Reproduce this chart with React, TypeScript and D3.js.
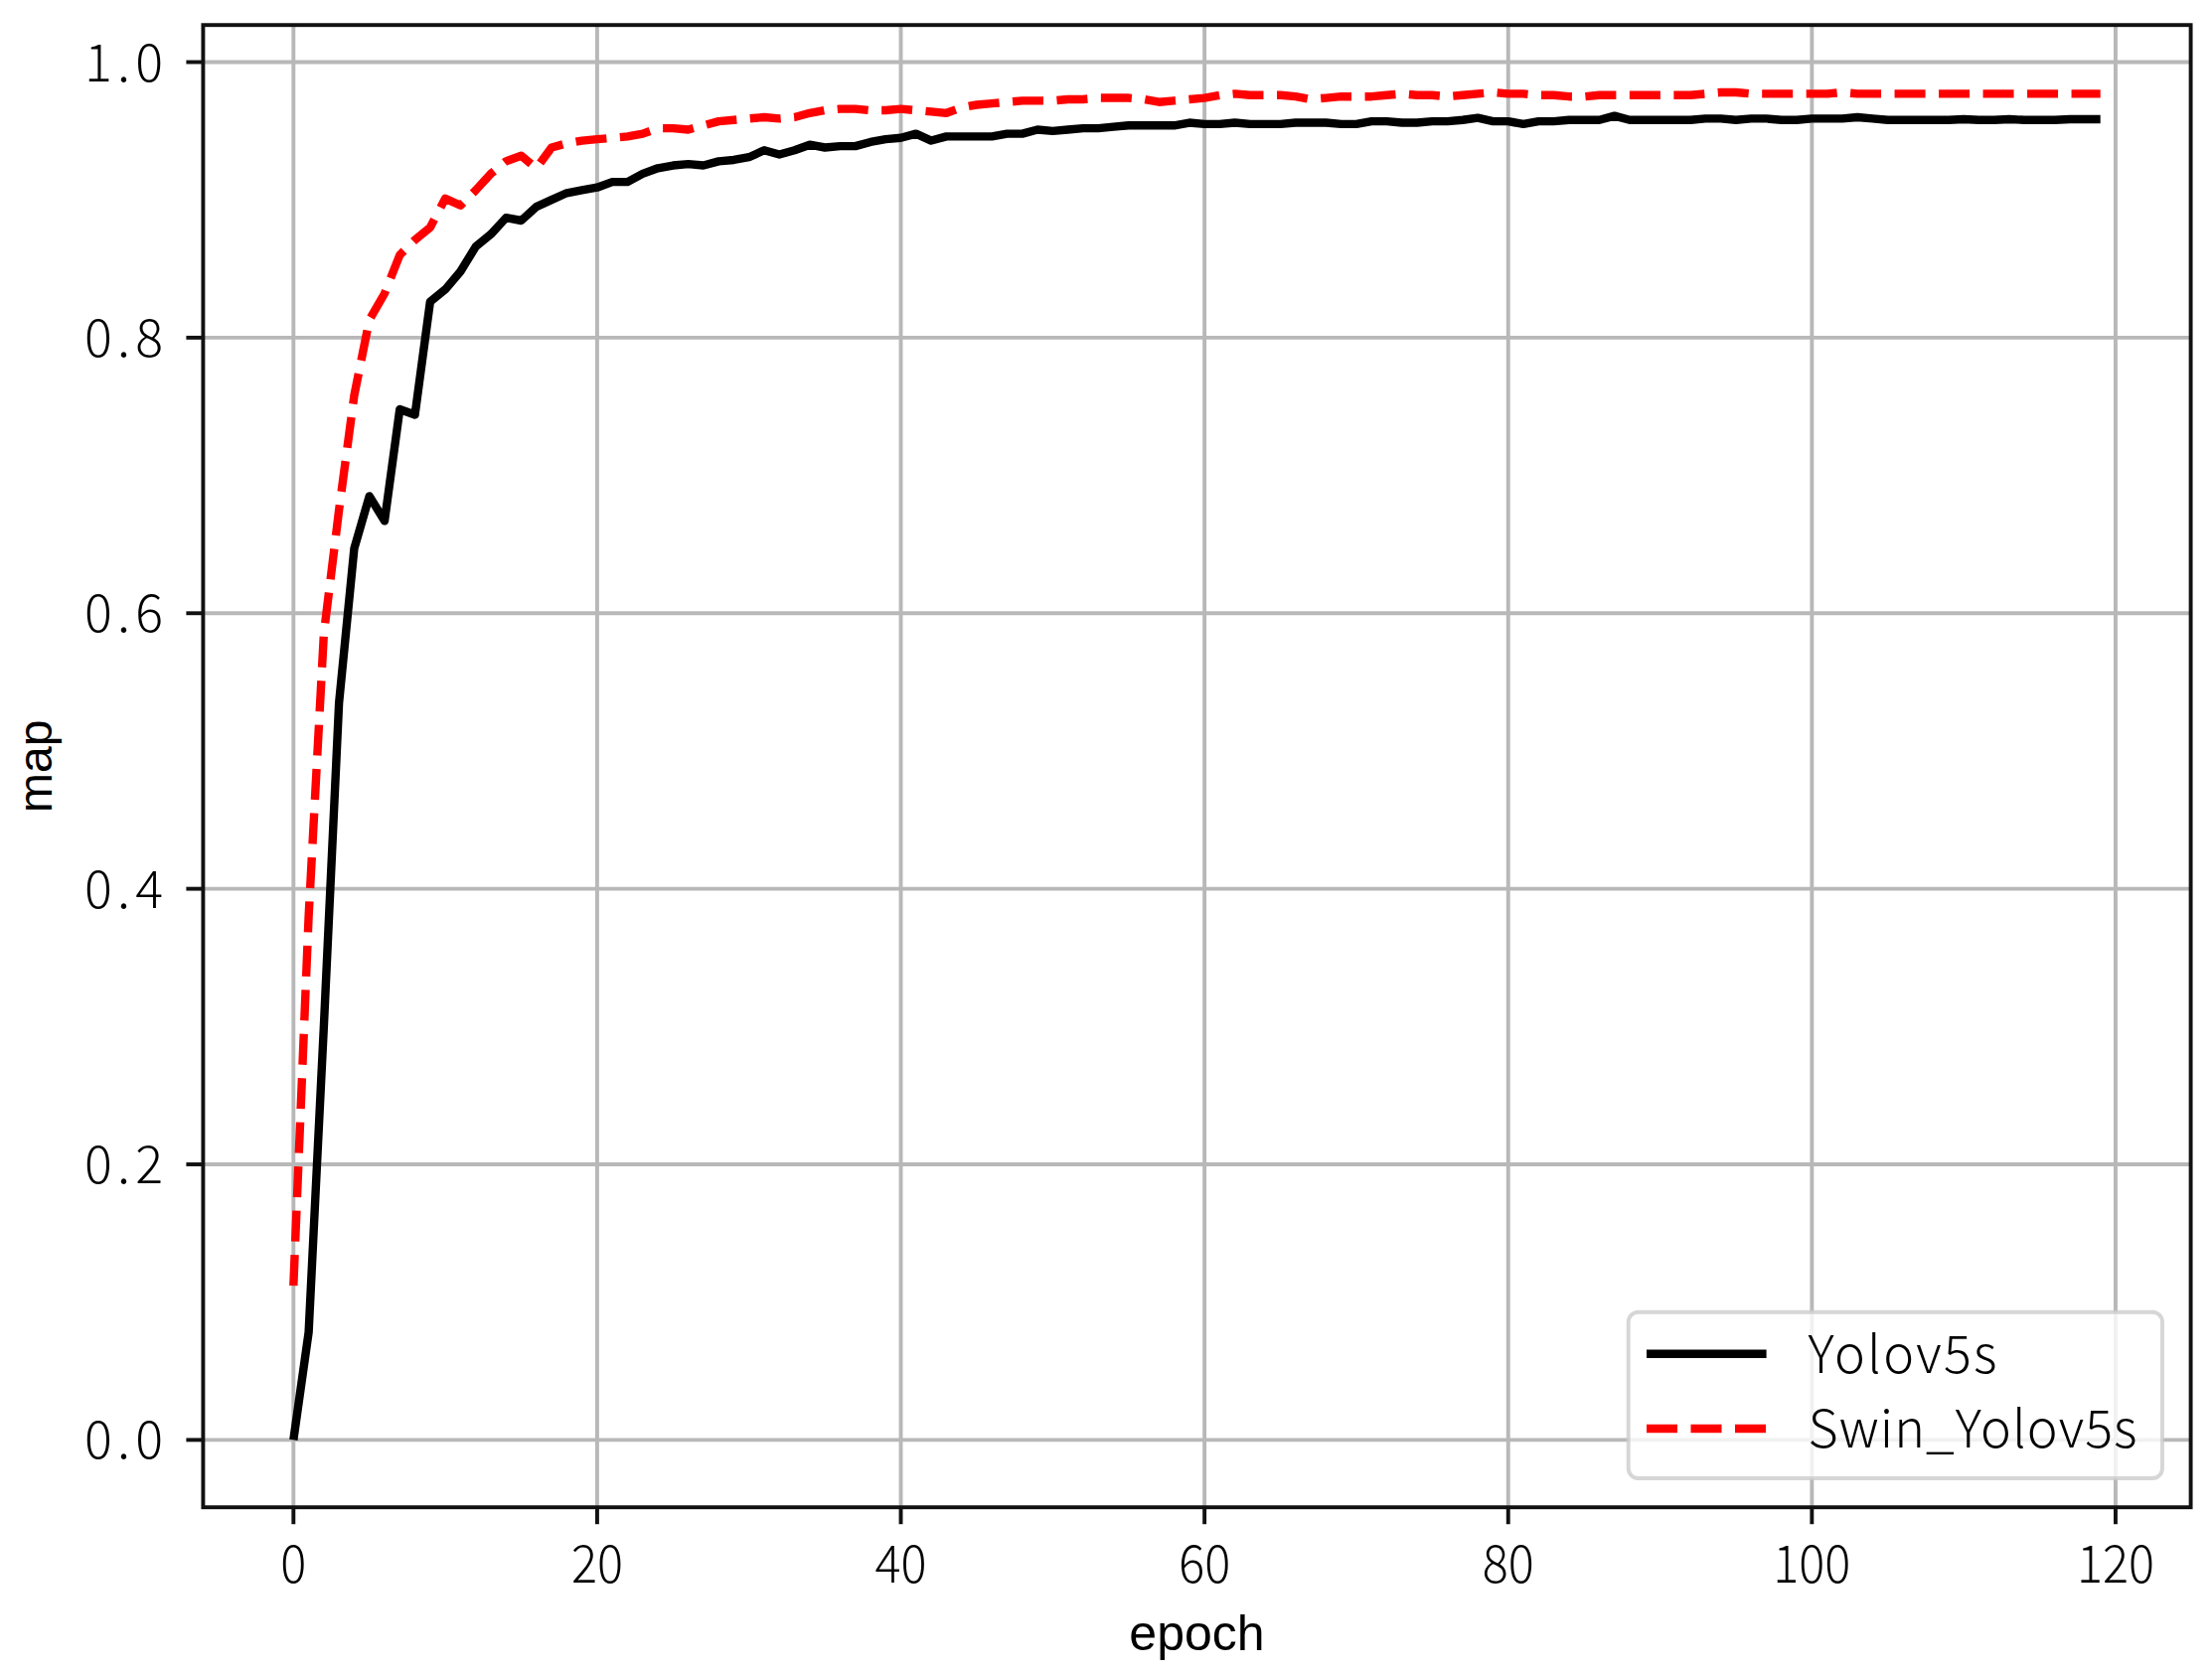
import React, { useRef, useEffect } from "react";
import * as d3 from "d3";

// mAP per epoch (index = epoch)
const yolov5s = [
    0.0, 0.078, 0.3, 0.535, 0.647, 0.685, 0.667, 0.748, 0.744, 0.826,
    0.835, 0.848, 0.866, 0.875, 0.887, 0.885, 0.895, 0.9, 0.905, 0.907,
    0.909, 0.913, 0.913, 0.919, 0.923, 0.925, 0.926, 0.925, 0.928, 0.929,
    0.931, 0.936, 0.933, 0.936, 0.94, 0.938, 0.939, 0.939, 0.942, 0.944,
    0.945, 0.948, 0.943, 0.946, 0.946, 0.946, 0.946, 0.948, 0.948, 0.951,
    0.95, 0.951, 0.952, 0.952, 0.953, 0.954, 0.954, 0.954, 0.954, 0.956,
    0.955, 0.955, 0.956, 0.955, 0.955, 0.955, 0.956, 0.956, 0.956, 0.955,
    0.955, 0.957, 0.957, 0.956, 0.956, 0.957, 0.957, 0.958, 0.9595, 0.957,
    0.957, 0.955, 0.957, 0.957, 0.958, 0.958, 0.958, 0.961, 0.958, 0.958,
    0.958, 0.958, 0.958, 0.959, 0.959, 0.958, 0.959, 0.959, 0.958, 0.958,
    0.959, 0.959, 0.959, 0.96, 0.959, 0.958, 0.958, 0.958, 0.958, 0.958,
    0.9585, 0.958, 0.958, 0.9585, 0.958, 0.958, 0.958, 0.9585, 0.9585, 0.9585,
];

const swinYolov5s = [
    0.112, 0.38, 0.585, 0.675, 0.758, 0.813, 0.832, 0.86, 0.871, 0.88,
    0.901, 0.896, 0.907, 0.919, 0.928, 0.932, 0.923, 0.938, 0.941, 0.943,
    0.944, 0.945, 0.946, 0.948, 0.952, 0.952, 0.951, 0.954, 0.957, 0.958,
    0.959, 0.96, 0.959, 0.96, 0.963, 0.965, 0.966, 0.966, 0.965, 0.965,
    0.966, 0.965, 0.964, 0.963, 0.967, 0.969, 0.97, 0.971, 0.972, 0.972,
    0.972, 0.973, 0.973, 0.974, 0.974, 0.974, 0.973, 0.971, 0.972, 0.973,
    0.974, 0.976, 0.977, 0.976, 0.976, 0.976, 0.975, 0.973, 0.974, 0.975,
    0.975, 0.975, 0.976, 0.977, 0.976, 0.976, 0.975, 0.976, 0.977, 0.978,
    0.977, 0.977, 0.976, 0.976, 0.975, 0.975, 0.976, 0.976, 0.976, 0.976,
    0.976, 0.976, 0.976, 0.977, 0.978, 0.978, 0.977, 0.977, 0.977, 0.977,
    0.977, 0.977, 0.978, 0.977, 0.977, 0.977, 0.977, 0.977, 0.977, 0.977,
    0.977, 0.977, 0.977, 0.977, 0.977, 0.977, 0.977, 0.977, 0.977, 0.977,
];

const seriesNames = ["Yolov5s", "Swin_Yolov5s"];
const xTicks = [0, 20, 40, 60, 80, 100, 120];
const yTicks = [0, 0.2, 0.4, 0.6, 0.8, 1.0];
const yTickLabels = ["0.0", "0.2", "0.4", "0.6", "0.8", "1.0"];

const App = () => {
    const svgRef = useRef<SVGSVGElement>(null);

    useEffect(() => {
        const root = d3.select(svgRef.current);
        root.selectAll("*").remove();

        const width = 2226;
        const height = 1684;
        const margin = { top: 25.2, right: 21.4, bottom: 166.8, left: 204.4 };
        const w = width - margin.left - margin.right;
        const h = height - margin.top - margin.bottom;

        const lw = 3.9; // 0.8pt
        const tickLen = 17;
        const tickFont = "'Noto Sans CJK SC', 'Noto Sans', sans-serif";
        const labelFont = "'Liberation Sans', Arial, sans-serif";

        root.append("rect").attr("width", width).attr("height", height).attr("fill", "#fff");

        const svg = root
            .append("g")
            .attr("transform", `translate(${margin.left},${margin.top})`);

        // matplotlib-style 5% margins
        const n = yolov5s.length;
        const xPad = (n - 1) * 0.05;
        const yMin = Math.min(d3.min(yolov5s)!, d3.min(swinYolov5s)!);
        const yMax = Math.max(d3.max(yolov5s)!, d3.max(swinYolov5s)!);
        const yPad = (yMax - yMin) * 0.05;

        const xScale = d3.scaleLinear().domain([-xPad, n - 1 + xPad]).range([0, w]);
        const yScale = d3.scaleLinear().domain([yMin - yPad, yMax + yPad]).range([h, 0]);

        // grid
        svg.append("g")
            .selectAll("line")
            .data(xTicks)
            .join("line")
            .attr("x1", (d) => xScale(d))
            .attr("x2", (d) => xScale(d))
            .attr("y1", 0)
            .attr("y2", h)
            .attr("stroke", "#b8b8b8")
            .attr("stroke-width", lw);
        svg.append("g")
            .selectAll("line")
            .data(yTicks)
            .join("line")
            .attr("x1", 0)
            .attr("x2", w)
            .attr("y1", (d) => yScale(d))
            .attr("y2", (d) => yScale(d))
            .attr("stroke", "#b8b8b8")
            .attr("stroke-width", lw);

        // lines
        const line = d3
            .line<number>()
            .x((d, i) => xScale(i))
            .y((d) => yScale(d));

        const styles = [
            { data: yolov5s, color: "#000000", dash: null },
            { data: swinYolov5s, color: "#ff0000", dash: "31,13.5" },
        ];

        styles.forEach((s) => {
            svg.append("path")
                .datum(s.data)
                .attr("fill", "none")
                .attr("stroke", s.color)
                .attr("stroke-width", 8.4)
                .attr("stroke-linejoin", "round")
                .attr("stroke-dasharray", s.dash)
                .attr("d", line);
        });

        // spines
        svg.append("rect")
            .attr("width", w)
            .attr("height", h)
            .attr("fill", "none")
            .attr("stroke", "#111")
            .attr("stroke-width", lw);

        // x ticks
        const xt = svg.append("g").selectAll("g").data(xTicks).join("g")
            .attr("transform", (d) => `translate(${xScale(d)},${h})`);
        xt.append("line").attr("y2", tickLen).attr("stroke", "#111").attr("stroke-width", lw);
        xt.append("text")
            .attr("y", 76)
            .attr("text-anchor", "middle")
            .attr("font-family", tickFont)
            .attr("font-size", 52)
            .attr("font-weight", 300)
            .attr("textLength", (d) => String(d).length * 26)
            .attr("lengthAdjust", "spacingAndGlyphs")
            .attr("fill", "#000")
            .text((d) => String(d));

        // y ticks
        const yt = svg.append("g").selectAll("g").data(yTicks).join("g")
            .attr("transform", (d) => `translate(0,${yScale(d)})`);
        yt.append("line").attr("x2", -tickLen).attr("stroke", "#111").attr("stroke-width", lw);
        yt.append("text")
            .attr("x", -40.4)
            .attr("y", 19)
            .attr("text-anchor", "end")
            .attr("font-family", tickFont)
            .attr("font-size", 52)
            .attr("font-weight", 300)
            .attr("textLength", 79)
            .attr("lengthAdjust", "spacing")
            .attr("fill", "#000")
            .text((d, i) => yTickLabels[i]);

        // axis labels
        svg.append("text")
            .attr("x", w / 2)
            .attr("y", h + 143.8)
            .attr("text-anchor", "middle")
            .attr("font-family", labelFont)
            .attr("font-size", 50)
            .attr("fill", "#000")
            .text("epoch");
        svg.append("text")
            .attr("transform", `translate(${51.7 - margin.left},${h / 2}) rotate(-90)`)
            .attr("text-anchor", "middle")
            .attr("font-family", labelFont)
            .attr("font-size", 48)
            .attr("fill", "#000")
            .text("map");

        // legend (lower right)
        const lg = svg.append("g").attr("transform", `translate(${w - 565.9},${h - 196.5})`);
        lg.append("rect")
            .attr("width", 537.3)
            .attr("height", 167.3)
            .attr("rx", 10)
            .attr("fill", "#fff")
            .attr("fill-opacity", 0.8)
            .attr("stroke", "#cccccc")
            .attr("stroke-opacity", 0.8)
            .attr("stroke-width", lw);
        const textLens = [190, 331];
        styles.forEach((s, i) => {
            const cy = 42 + i * 75.3;
            lg.append("line")
                .attr("x1", 18.3)
                .attr("x2", 138.9)
                .attr("y1", cy)
                .attr("y2", cy)
                .attr("stroke", s.color)
                .attr("stroke-width", 8.4)
                .attr("stroke-dasharray", s.dash);
            lg.append("text")
                .attr("x", 180.9)
                .attr("y", cy + 19.5)
                .attr("font-family", tickFont)
                .attr("font-size", 52)
                .attr("font-weight", 300)
                .attr("textLength", textLens[i])
                .attr("lengthAdjust", "spacing")
                .attr("fill", "#000")
                .text(seriesNames[i]);
        });
    }, []);

    return (
        <svg
            ref={svgRef}
            width={2226}
            height={1684}
            style={{ position: "absolute", left: 0, top: 0 }}
        ></svg>
    );
};

export default App;
